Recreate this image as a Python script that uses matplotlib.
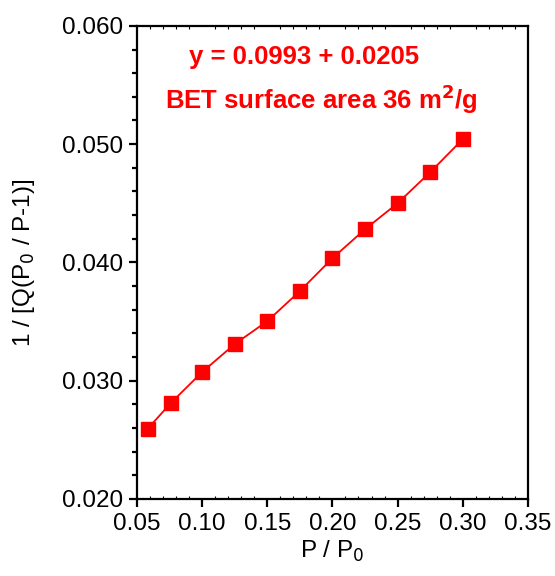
import matplotlib
matplotlib.use("Agg")
import matplotlib.pyplot as plt
from matplotlib.ticker import MultipleLocator, FormatStrFormatter

plt.rcParams['font.family'] = ['Liberation Sans', 'DejaVu Sans']

# data
p_rel = [0.058, 0.076, 0.100, 0.125, 0.150, 0.175, 0.200, 0.225, 0.250, 0.275, 0.300]
bet_y = [0.02591, 0.02811, 0.03073, 0.03309, 0.03503, 0.03757, 0.04035, 0.04280, 0.04500, 0.04762, 0.05041]

fig = plt.figure(figsize=(5.55, 5.76), dpi=100)
ax = fig.add_axes([0.247, 0.134, 0.704, 0.821])

ax.plot(p_rel, bet_y, color="red", lw=1.3, marker="s", ms=10.5,
        mfc="red", mec="red")

ax.set_xlim(0.05, 0.35)
ax.set_ylim(0.020, 0.060)
ax.xaxis.set_major_locator(MultipleLocator(0.05))
ax.xaxis.set_minor_locator(MultipleLocator(0.01))
ax.yaxis.set_major_locator(MultipleLocator(0.010))
ax.yaxis.set_minor_locator(MultipleLocator(0.002))
ax.xaxis.set_major_formatter(FormatStrFormatter("%.2f"))
ax.yaxis.set_major_formatter(FormatStrFormatter("%.3f"))

for s in ax.spines.values():
    s.set_linewidth(1.6)
ax.tick_params(which="major", direction="out", length=6, width=1.6, labelsize=17.5, pad=4)
ax.tick_params(which="minor", direction="out", length=3.5, width=1.6)
ax.tick_params(axis="x", which="minor", top=True, direction="in", length=2, width=0.8)

ax.set_xlabel("P / P$_0$", fontsize=17.5, labelpad=3)
ax.set_ylabel("1 / [Q(P$_0$ / P-1)]", fontsize=17.5, labelpad=18)

ax.text(0.427, 0.935, "y = 0.0993 + 0.0205", transform=ax.transAxes,
        color="red", fontsize=18.5, fontweight="bold", ha="center", va="center")
ax.text(0.473, 0.845, "BET surface area 36 m$^\\mathbf{2}$/g", transform=ax.transAxes,
        color="red", fontsize=18.5, fontweight="bold", ha="center", va="center")

fig.savefig("out.png", dpi=100)
